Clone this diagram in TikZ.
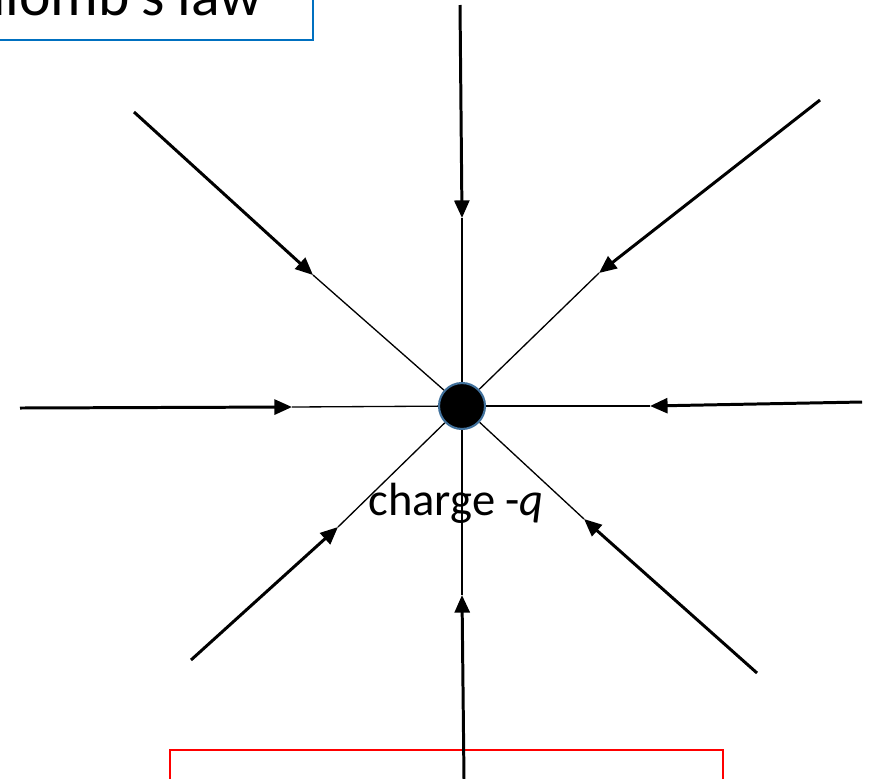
\documentclass[tikz,border=0pt]{standalone}
\usepackage{fontspec}
\setmainfont{Carlito}
\usetikzlibrary{arrows.meta, positioning}

\begin{document}
\begin{tikzpicture}[x=0.02cm, y=-0.02cm,
    fieldline/.style={line width=1.7pt, -{Triangle[length=10pt, width=8.5pt]}},
    innerline/.style={line width=0.75pt},
    chargedot/.style={circle, fill=black, draw={rgb,255:red,65;green,113;blue,156},
                      line width=1.2pt, minimum size=0.92cm, inner sep=0pt}]
    \clip (0,0) rectangle (874,778);
    \draw[line width=1.2pt, draw={rgb,255:red,0;green,112;blue,192}] (-200,-100) rectangle (313,40);
    \node[anchor=base east, font=\fontsize{34}{40}\selectfont, inner sep=0pt] (title) at (263,15) {Coulomb's law};
    \draw[line width=0.8pt, red] (170,750) rectangle (723,820);

    \node[chargedot] (q) at (462,406) {};
    % outer ends
    \coordinate (n0) at (460,5);    \coordinate (n1) at (462,218);
    \coordinate (nw0) at (134,112); \coordinate (nw1) at (313,275);
    \coordinate (ne0) at (820,100); \coordinate (ne1) at (599,273);
    \coordinate (w0) at (20,408);   \coordinate (w1) at (292,407);
    \coordinate (e0) at (862,402);  \coordinate (e1) at (650,406);
    \coordinate (sw0) at (191,660); \coordinate (sw1) at (338,527);
    \coordinate (se0) at (757,673); \coordinate (se1) at (584,519);
    \coordinate (s0) at (464,780);  \coordinate (s1) at (462,595);

    \foreach \d in {n, nw, ne, w, e, sw, se, s} {
        \draw[innerline] (\d1) -- (q);
        \draw[fieldline] (\d0) -- (\d1);
    }

    \node[anchor=base west, font=\fontsize{26.5}{30}\selectfont, inner sep=0pt] (label) at (368,515) {charge -\textit{q}};
\end{tikzpicture}
\end{document}
